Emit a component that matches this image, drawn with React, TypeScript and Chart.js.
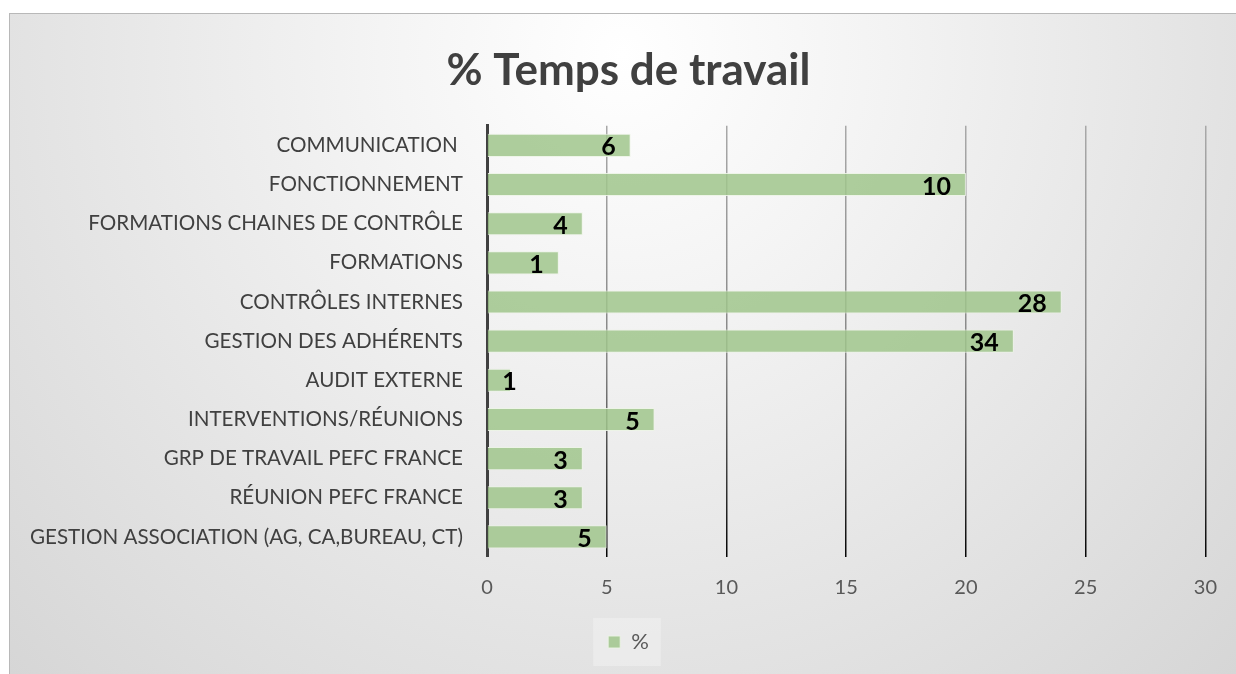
import React, { useEffect, useRef } from "react";
import { Chart, registerables } from "chart.js";

Chart.register(...registerables);

const chartTitle = "% Temps de travail";
const seriesName = "%";
const categories = [
  "COMMUNICATION ",
  "FONCTIONNEMENT",
  "FORMATIONS CHAINES DE CONTRÔLE",
  "FORMATIONS",
  "CONTRÔLES INTERNES",
  "GESTION DES ADHÉRENTS",
  "AUDIT EXTERNE",
  "INTERVENTIONS/RÉUNIONS",
  "GRP DE TRAVAIL PEFC FRANCE",
  "RÉUNION PEFC FRANCE",
  "GESTION ASSOCIATION (AG, CA,BUREAU, CT)",
];
// bar lengths as drawn
const barValues = [6, 20, 4, 3, 24, 22, 1, 7, 4, 4, 5];
// data labels as printed on the bars
const labelValues = [6, 10, 4, 1, 28, 34, 1, 5, 3, 3, 5];
const xMin = 0;
const xMax = 30;
const xStep = 5;

const FONT = "Lato";

// let the category labels use the full left margin (no clipping at the padding)
const widenYAxisPlugin = {
  id: "widenYAxis",
  afterLayout(chart: any) {
    const y = chart.scales.y;
    if (y) {
      y.left = 0;
      y.width = y.right;
    }
  },
};

const legendBgPlugin = {
  id: "legendBg",
  beforeDraw(chart: any) {
    const lg = chart.legend;
    if (!lg || !lg.legendHitBoxes || !lg.legendHitBoxes.length) return;
    const hb = lg.legendHitBoxes[0];
    const ctx = chart.ctx;
    ctx.save();
    ctx.fillStyle = "rgba(255,255,255,0.28)";
    const cy = hb.top + hb.height / 2;
    ctx.fillRect(hb.left - 15, cy - 24, hb.width + 27, 48);
    ctx.restore();
  },
};

const dataLabelPlugin = {
  id: "dataLabels",
  afterDatasetsDraw(chart: any) {
    const meta = chart.getDatasetMeta(0);
    const ctx = chart.ctx;
    ctx.save();
    ctx.font = `bold 25px ${FONT}`;
    ctx.fillStyle = "#000000";
    ctx.textAlign = "right";
    ctx.textBaseline = "middle";
    meta.data.forEach((bar: any, i: number) => {
      const { x, y, base } = bar.getProps(["x", "y", "base"], true);
      const tx = Math.max(x - 15, base + 29);
      ctx.fillText(String(labelValues[i]), tx, y + 2);
    });
    ctx.restore();
  },
};

export default function App() {
  const canvasRef = useRef<HTMLCanvasElement | null>(null);

  useEffect(() => {
    let chart: Chart | null = null;
    let cancelled = false;
    const build = () => {
      if (cancelled || !canvasRef.current) return;
      chart = new Chart(canvasRef.current, {
        type: "bar",
        data: {
          labels: categories,
          datasets: [
            {
              label: seriesName,
              data: barValues,
              backgroundColor: "rgba(160,198,140,0.85)",
              borderColor: "rgba(236,244,230,0.9)",
              borderWidth: 1,
              categoryPercentage: 1,
              barPercentage: 0.59,
            },
          ],
        },
        options: {
          indexAxis: "y",
          responsive: false,
          animation: false,
          devicePixelRatio: 1,
          layout: { padding: { left: 40, right: 29, top: 0, bottom: 11 } },
          scales: {
            x: {
              min: xMin,
              max: xMax,
              ticks: {
                stepSize: xStep,
                color: "#595959",
                font: { family: FONT, size: 20 },
                padding: 19,
              },
              grid: {
                drawTicks: false,
                lineWidth: 1.5,
                color: (c: any) => {
                  const ch = c.chart;
                  const a = ch.chartArea;
                  if (!a) return "#8c8c8c";
                  const g = ch.ctx.createLinearGradient(0, a.top, 0, a.bottom);
                  g.addColorStop(0, "#a8a8a8");
                  g.addColorStop(0.55, "#858585");
                  g.addColorStop(1, "#050505");
                  return g;
                },
              },
              border: { display: false },
              afterFit: (s: any) => {
                s.height = 64.5;
              },
            },
            y: {
              ticks: {
                color: "#404040",
                font: { family: FONT, size: 20.6 },
                padding: 24,
              },
              grid: { display: false, drawTicks: false },
              border: { display: true, color: "#404040", width: 3 },
              afterFit: (s: any) => {
                s.width = 437;
              },
            },
          },
          plugins: {
            title: {
              display: true,
              text: chartTitle,
              color: "#404040",
              font: { family: FONT, size: 44, weight: "bold" },
              padding: { top: 30, bottom: 29 },
            },
            legend: {
              display: true,
              position: "bottom",
              labels: {
                boxWidth: 12,
                boxHeight: 12,
                color: "#595959",
                font: { family: FONT, size: 22 },
                padding: 10,
              },
            },
            tooltip: { enabled: false },
          },
        },
        plugins: [widenYAxisPlugin, legendBgPlugin, dataLabelPlugin],
      });
    };
    const fontsApi: any = (document as any).fonts;
    if (fontsApi && fontsApi.load) {
      Promise.all([
        fontsApi.load(`bold 44px ${FONT}`),
        fontsApi.load(`20px ${FONT}`),
      ])
        .catch(() => {})
        .then(build);
    } else {
      build();
    }
    return () => {
      cancelled = true;
      if (chart) chart.destroy();
    };
  }, []);

  return (
    <div
      style={{
        position: "absolute",
        left: 9,
        top: 13,
        width: 1227,
        height: 661,
        boxSizing: "border-box",
        borderLeft: "1px solid #b8b8b8",
        borderTop: "1px solid #b8b8b8",
        background:
          "radial-gradient(ellipse farthest-corner at 50% 6%, #ffffff 0%, #f4f4f4 28%, #d6d6d6 100%)",
        overflow: "hidden",
      }}
    >
      <canvas
        ref={canvasRef}
        width={1226}
        height={660}
        style={{ display: "block", width: 1226, height: 660 }}
      />
    </div>
  );
}
